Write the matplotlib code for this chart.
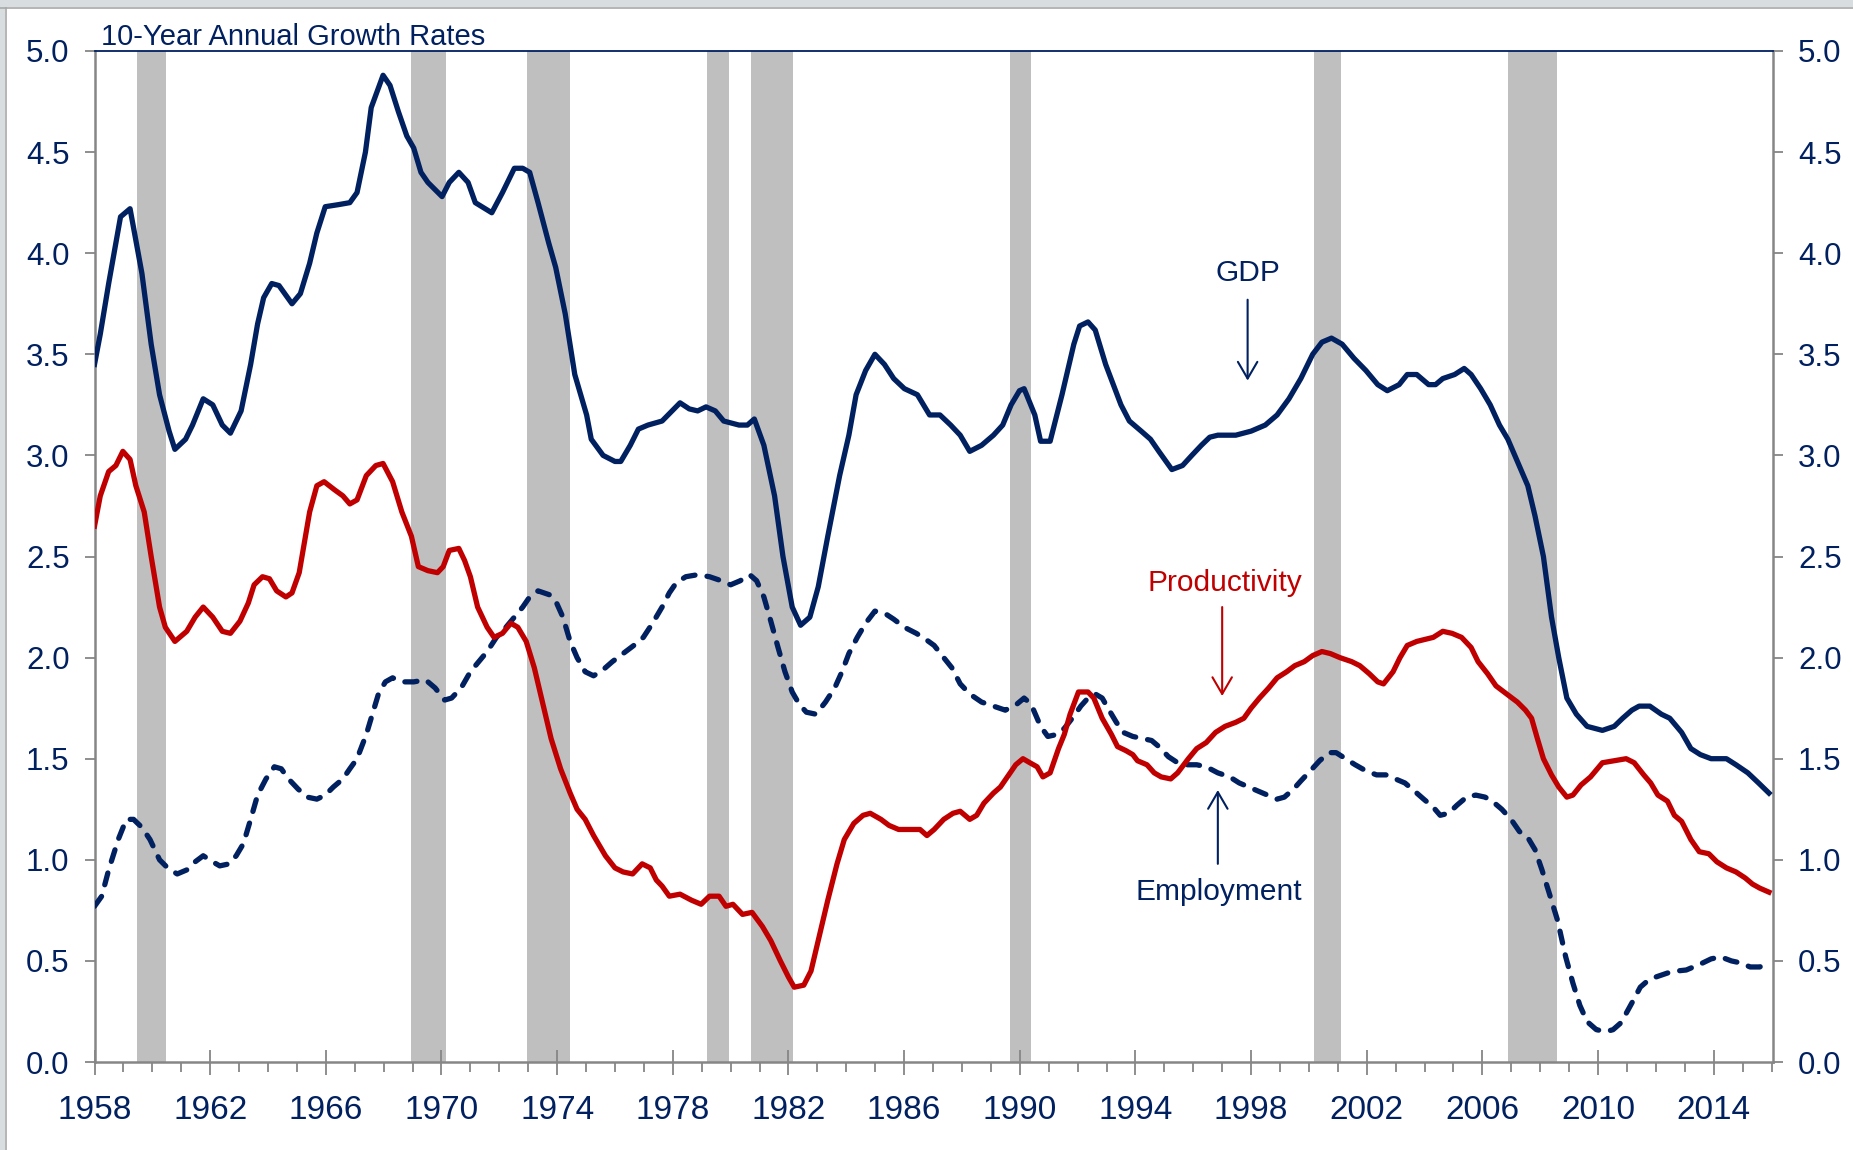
import matplotlib
matplotlib.use("Agg")
import matplotlib.pyplot as plt
from matplotlib.ticker import MultipleLocator, FormatStrFormatter, FixedLocator
from matplotlib.patches import Rectangle
from matplotlib.lines import Line2D

plt.rcParams['font.family'] = ['Liberation Sans', 'DejaVu Sans']

NAVY = '#002060'
RED = '#C00000'
BAR = '#BFBFBF'
SPINE = '#868686'

title = "10-Year Annual Growth Rates"
year_ticks = [1958, 1962, 1966, 1970, 1974, 1978, 1982, 1986, 1990, 1994, 1998, 2002, 2006, 2010, 2014]

recessions = [(1959.46, 1960.48), (1968.95, 1970.16), (1972.97, 1974.46),
              (1979.18, 1979.94), (1980.72, 1982.14), (1989.65, 1990.38),
              (2000.16, 2001.12), (2006.87, 2008.58)]

gdp_years = [1958.0, 1958.2, 1958.49, 1958.9, 1959.23, 1959.64, 1959.96, 1960.25, 1960.58, 1960.78,
             1961.15, 1961.39, 1961.76, 1962.09, 1962.42, 1962.7, 1963.07, 1963.4, 1963.64, 1963.85,
             1964.13, 1964.38, 1964.83, 1965.12, 1965.44, 1965.69, 1965.98, 1966.43, 1966.83, 1967.08,
             1967.37, 1967.57, 1967.98, 1968.22, 1968.51, 1968.8, 1969.04, 1969.29, 1969.53, 1970.02,
             1970.27, 1970.6, 1970.92, 1971.17, 1971.74, 1972.11, 1972.52, 1972.81, 1973.05, 1973.34,
             1973.71, 1973.95, 1974.28, 1974.61, 1975.02, 1975.18, 1975.59, 1976.0, 1976.2, 1976.53,
             1976.81, 1977.14, 1977.63, 1978.25, 1978.57, 1978.86, 1979.15, 1979.47, 1979.76, 1980.29,
             1980.58, 1980.82, 1981.15, 1981.52, 1981.81, 1982.13, 1982.42, 1982.74, 1983.03, 1983.36,
             1983.77, 1984.09, 1984.34, 1984.67, 1984.99, 1985.32, 1985.64, 1986.01, 1986.46, 1986.88,
             1987.24, 1987.61, 1987.94, 1988.27, 1988.68, 1989.09, 1989.41, 1989.7, 1989.99, 1990.15,
             1990.52, 1990.72, 1991.05, 1991.46, 1991.87, 1992.07, 1992.36, 1992.61, 1992.97, 1993.5,
             1993.79, 1994.2, 1994.52, 1994.81, 1995.26, 1995.63, 1995.95, 1996.28, 1996.57, 1996.85,
             1997.47, 1998.0, 1998.49, 1998.9, 1999.31, 1999.72, 2000.13, 2000.45, 2000.78, 2001.15,
             2001.56, 2001.97, 2002.38, 2002.71, 2003.12, 2003.4, 2003.73, 2004.14, 2004.38, 2004.63,
             2005.04, 2005.37, 2005.61, 2005.94, 2006.27, 2006.59, 2006.88, 2007.21, 2007.57, 2007.82,
             2008.11, 2008.39, 2008.64, 2008.92, 2009.25, 2009.62, 2010.15, 2010.56, 2010.85, 2011.17,
             2011.42, 2011.79, 2012.19, 2012.48, 2012.89, 2013.21, 2013.54, 2013.91, 2014.44, 2014.77,
             2015.18, 2015.55, 2015.91]
gdp_values = [3.45, 3.6, 3.85, 4.18, 4.22, 3.9, 3.55, 3.3, 3.12, 3.03,
              3.08, 3.15, 3.28, 3.25, 3.15, 3.11, 3.22, 3.45, 3.65, 3.78,
              3.85, 3.84, 3.75, 3.8, 3.95, 4.1, 4.23, 4.24, 4.25, 4.3,
              4.5, 4.72, 4.88, 4.83, 4.7, 4.58, 4.52, 4.4, 4.35, 4.28,
              4.35, 4.4, 4.35, 4.25, 4.2, 4.3, 4.42, 4.42, 4.4, 4.25,
              4.05, 3.93, 3.7, 3.4, 3.2, 3.08, 3.0, 2.97, 2.97, 3.05,
              3.13, 3.15, 3.17, 3.26, 3.23, 3.22, 3.24, 3.22, 3.17, 3.15,
              3.15, 3.18, 3.05, 2.8, 2.5, 2.25, 2.16, 2.2, 2.35, 2.6,
              2.9, 3.1, 3.3, 3.42, 3.5, 3.45, 3.38, 3.33, 3.3, 3.2,
              3.2, 3.15, 3.1, 3.02, 3.05, 3.1, 3.15, 3.25, 3.32, 3.33,
              3.2, 3.07, 3.07, 3.3, 3.55, 3.64, 3.66, 3.62, 3.45, 3.25,
              3.17, 3.12, 3.08, 3.02, 2.93, 2.95, 3.0, 3.05, 3.09, 3.1,
              3.1, 3.12, 3.15, 3.2, 3.28, 3.38, 3.5, 3.56, 3.58, 3.55,
              3.48, 3.42, 3.35, 3.32, 3.35, 3.4, 3.4, 3.35, 3.35, 3.38,
              3.4, 3.43, 3.4, 3.33, 3.25, 3.15, 3.08, 2.97, 2.85, 2.7,
              2.5, 2.2, 2.0, 1.8, 1.72, 1.66, 1.64, 1.66, 1.7, 1.74,
              1.76, 1.76, 1.72, 1.7, 1.63, 1.55, 1.52, 1.5, 1.5, 1.47,
              1.43, 1.38, 1.33]

prod_years = [1958.0, 1958.2, 1958.49, 1958.74, 1958.98, 1959.23, 1959.43, 1959.72, 1959.96, 1960.25,
              1960.45, 1960.78, 1961.19, 1961.48, 1961.76, 1962.09, 1962.42, 1962.7, 1963.03, 1963.32,
              1963.52, 1963.81, 1964.05, 1964.3, 1964.62, 1964.83, 1965.08, 1965.44, 1965.69, 1965.94,
              1966.3, 1966.59, 1966.83, 1967.08, 1967.4, 1967.73, 1967.98, 1968.31, 1968.63, 1968.96,
              1969.2, 1969.53, 1969.86, 1970.06, 1970.27, 1970.6, 1970.8, 1971.0, 1971.25, 1971.58,
              1971.82, 1972.11, 1972.4, 1972.64, 1972.93, 1973.21, 1973.46, 1973.79, 1974.12, 1974.45,
              1974.69, 1974.97, 1975.26, 1975.67, 1976.0, 1976.28, 1976.61, 1976.94, 1977.22, 1977.43,
              1977.63, 1977.88, 1978.25, 1978.65, 1978.98, 1979.27, 1979.6, 1979.84, 1980.08, 1980.41,
              1980.74, 1981.1, 1981.39, 1981.72, 1982.0, 1982.2, 1982.53, 1982.78, 1983.03, 1983.36,
              1983.68, 1983.93, 1984.26, 1984.58, 1984.83, 1985.2, 1985.48, 1985.81, 1986.22, 1986.55,
              1986.79, 1987.04, 1987.37, 1987.69, 1987.94, 1988.27, 1988.51, 1988.76, 1989.09, 1989.33,
              1989.62, 1989.86, 1990.11, 1990.35, 1990.6, 1990.8, 1991.05, 1991.34, 1991.54, 1991.74,
              1992.03, 1992.36, 1992.56, 1992.85, 1993.17, 1993.38, 1993.67, 1993.91, 1994.07, 1994.4,
              1994.65, 1994.89, 1995.22, 1995.46, 1995.83, 1996.12, 1996.45, 1996.77, 1997.1, 1997.47,
              1997.75, 1998.0, 1998.29, 1998.61, 1998.9, 1999.23, 1999.51, 1999.84, 2000.13, 2000.45,
              2000.74, 2001.07, 2001.48, 2001.76, 2002.09, 2002.38, 2002.58, 2002.91, 2003.15, 2003.4,
              2003.73, 2004.01, 2004.3, 2004.63, 2004.95, 2005.28, 2005.61, 2005.85, 2006.18, 2006.47,
              2006.84, 2007.21, 2007.49, 2007.7, 2007.9, 2008.11, 2008.39, 2008.64, 2008.92, 2009.13,
              2009.41, 2009.74, 2010.15, 2010.56, 2010.97, 2011.25, 2011.58, 2011.82, 2012.07, 2012.4,
              2012.64, 2012.89, 2013.21, 2013.5, 2013.83, 2014.11, 2014.44, 2014.77, 2015.09, 2015.34,
              2015.59, 2015.91]
prod_values = [2.65, 2.8, 2.92, 2.95, 3.02, 2.98, 2.85, 2.72, 2.5, 2.25,
               2.15, 2.08, 2.13, 2.2, 2.25, 2.2, 2.13, 2.12, 2.18, 2.27,
               2.36, 2.4, 2.39, 2.33, 2.3, 2.32, 2.42, 2.72, 2.85, 2.87,
               2.83, 2.8, 2.76, 2.78, 2.9, 2.95, 2.96, 2.87, 2.72, 2.6,
               2.45, 2.43, 2.42, 2.45, 2.53, 2.54, 2.48, 2.4, 2.25, 2.15,
               2.1, 2.12, 2.17, 2.15, 2.08, 1.95, 1.8, 1.6, 1.45, 1.33,
               1.25, 1.2, 1.12, 1.02, 0.96, 0.94, 0.93, 0.98, 0.96, 0.9,
               0.87, 0.82, 0.83, 0.8, 0.78, 0.82, 0.82, 0.77, 0.78, 0.73,
               0.74, 0.67, 0.6, 0.5, 0.42, 0.37, 0.38, 0.45, 0.6, 0.8,
               0.98, 1.1, 1.18, 1.22, 1.23, 1.2, 1.17, 1.15, 1.15, 1.15,
               1.12, 1.15, 1.2, 1.23, 1.24, 1.2, 1.22, 1.28, 1.33, 1.36,
               1.42, 1.47, 1.5, 1.48, 1.46, 1.41, 1.43, 1.55, 1.62, 1.72,
               1.83, 1.83, 1.8, 1.7, 1.62, 1.56, 1.54, 1.52, 1.49, 1.47,
               1.43, 1.41, 1.4, 1.43, 1.5, 1.55, 1.58, 1.63, 1.66, 1.68,
               1.7, 1.75, 1.8, 1.85, 1.9, 1.93, 1.96, 1.98, 2.01, 2.03,
               2.02, 2.0, 1.98, 1.96, 1.92, 1.88, 1.87, 1.93, 2.0, 2.06,
               2.08, 2.09, 2.1, 2.13, 2.12, 2.1, 2.05, 1.98, 1.92, 1.86,
               1.82, 1.78, 1.74, 1.7, 1.6, 1.5, 1.42, 1.36, 1.31, 1.32,
               1.37, 1.41, 1.48, 1.49, 1.5, 1.48, 1.42, 1.38, 1.32, 1.29,
               1.22, 1.19, 1.1, 1.04, 1.03, 0.99, 0.96, 0.94, 0.91, 0.88,
               0.86, 0.84]

emp_years = [1958.0, 1958.25, 1958.49, 1958.82, 1959.1, 1959.35, 1959.64, 1959.92, 1960.25, 1960.53,
             1960.86, 1961.19, 1961.48, 1961.76, 1962.09, 1962.33, 1962.66, 1962.9, 1963.15, 1963.4,
             1963.64, 1963.93, 1964.22, 1964.46, 1964.71, 1965.04, 1965.36, 1965.69, 1965.98, 1966.26,
             1966.59, 1966.83, 1967.08, 1967.4, 1967.61, 1967.82, 1968.06, 1968.31, 1968.63, 1969.04,
             1969.45, 1969.78, 1970.11, 1970.35, 1970.68, 1971.0, 1971.29, 1971.58, 1971.9, 1972.23,
             1972.52, 1972.81, 1973.05, 1973.34, 1973.75, 1973.95, 1974.2, 1974.45, 1974.69, 1974.97,
             1975.26, 1975.59, 1975.91, 1976.28, 1976.65, 1976.98, 1977.3, 1977.63, 1977.88, 1978.12,
             1978.45, 1978.86, 1979.27, 1979.68, 1980.0, 1980.33, 1980.66, 1980.9, 1981.15, 1981.39,
             1981.64, 1981.88, 1982.13, 1982.37, 1982.62, 1982.95, 1983.28, 1983.6, 1983.85, 1984.09,
             1984.38, 1984.67, 1984.99, 1985.32, 1985.64, 1986.01, 1986.42, 1986.75, 1987.04, 1987.37,
             1987.65, 1987.94, 1988.27, 1988.68, 1989.09, 1989.5, 1989.9, 1990.15, 1990.39, 1990.72,
             1990.97, 1991.29, 1991.54, 1991.87, 1992.11, 1992.36, 1992.61, 1992.85, 1993.09, 1993.34,
             1993.58, 1993.91, 1994.24, 1994.56, 1994.81, 1995.14, 1995.46, 1995.79, 1996.12, 1996.45,
             1996.85, 1997.26, 1997.59, 1997.92, 1998.24, 1998.57, 1998.9, 1999.15, 1999.47, 1999.72,
             2000.05, 2000.37, 2000.7, 2000.94, 2001.27, 2001.6, 2001.97, 2002.34, 2002.66, 2002.99,
             2003.32, 2003.65, 2003.97, 2004.3, 2004.54, 2004.83, 2005.12, 2005.45, 2005.77, 2006.09,
             2006.34, 2006.67, 2006.99, 2007.28, 2007.57, 2007.82, 2008.06, 2008.3, 2008.6, 2008.88,
             2009.13, 2009.37, 2009.62, 2009.94, 2010.27, 2010.52, 2010.76, 2010.97, 2011.2, 2011.46,
             2011.7, 2011.99, 2012.4, 2012.72, 2013.05, 2013.3, 2013.62, 2013.91, 2014.24, 2014.61,
             2014.93, 2015.26, 2015.59, 2015.91]
emp_values = [0.77, 0.82, 0.95, 1.1, 1.2, 1.2, 1.16, 1.1, 1.0, 0.96,
              0.93, 0.95, 0.99, 1.02, 0.99, 0.97, 0.98, 1.02, 1.08, 1.2,
              1.32, 1.4, 1.46, 1.45, 1.4, 1.35, 1.31, 1.3, 1.32, 1.36,
              1.4, 1.45, 1.5, 1.62, 1.72, 1.82, 1.88, 1.9, 1.88, 1.88,
              1.89, 1.85, 1.79, 1.8, 1.85, 1.93, 1.98, 2.03, 2.1, 2.15,
              2.2, 2.25, 2.3, 2.33, 2.31, 2.28, 2.2, 2.08, 2.0, 1.93,
              1.91, 1.94, 1.98, 2.02, 2.06, 2.1, 2.17, 2.25, 2.32, 2.37,
              2.4, 2.41, 2.4, 2.38, 2.36, 2.38, 2.41, 2.38, 2.3, 2.18,
              2.05, 1.93, 1.83, 1.77, 1.73, 1.72, 1.78, 1.85, 1.93, 2.02,
              2.1, 2.17, 2.23, 2.22, 2.19, 2.15, 2.12, 2.09, 2.06, 2.0,
              1.95, 1.87, 1.82, 1.78, 1.76, 1.74, 1.77, 1.8, 1.77, 1.66,
              1.61, 1.62, 1.65, 1.71, 1.76, 1.8, 1.82, 1.8, 1.74, 1.68,
              1.63, 1.61, 1.6, 1.59, 1.56, 1.51, 1.48, 1.47, 1.47, 1.46,
              1.43, 1.41, 1.38, 1.36, 1.34, 1.32, 1.3, 1.31, 1.35, 1.39,
              1.44, 1.49, 1.53, 1.53, 1.5, 1.47, 1.44, 1.42, 1.42, 1.4,
              1.38, 1.34, 1.3, 1.26, 1.22, 1.23, 1.27, 1.31, 1.32, 1.31,
              1.29, 1.25, 1.2, 1.14, 1.11, 1.05, 0.95, 0.84, 0.7, 0.52,
              0.39, 0.28, 0.2, 0.16, 0.15, 0.16, 0.19, 0.24, 0.3, 0.37,
              0.4, 0.42, 0.44, 0.45, 0.455, 0.47, 0.49, 0.51, 0.52, 0.5,
              0.49, 0.47, 0.47, 0.49]

fig = plt.figure(figsize=(18.53, 11.5), dpi=100)
fig.patch.set_facecolor('white')
# thin grey frame strips of the original screenshot
fig.patches.append(Rectangle((0, 1 - 7 / 1150), 1, 7 / 1150, transform=fig.transFigure,
                             facecolor='#D8DEDF', edgecolor='none', zorder=0))
fig.patches.append(Rectangle((0, 0), 5 / 1853, 1, transform=fig.transFigure,
                             facecolor='#D8DEDF', edgecolor='none', zorder=0))
fig.lines.append(Line2D([0, 1], [1 - 7.5 / 1150] * 2, transform=fig.transFigure,
                        color='#A8A8A8', lw=1.2))
fig.lines.append(Line2D([5.5 / 1853] * 2, [0, 1 - 7.5 / 1150], transform=fig.transFigure,
                        color='#A8A8A8', lw=1.2))

ax = fig.add_axes([94.5 / 1853, 88 / 1150, (1773 - 94.5) / 1853, (1062 - 51) / 1150])

for s, e in recessions:
    ax.axvspan(s, e, facecolor=BAR, edgecolor='none', zorder=1)

emp_line, = ax.plot(emp_years, emp_values, color=NAVY, lw=3.8, zorder=3,
                    solid_capstyle='round', dash_capstyle='round')
emp_line.set_dashes((2.3, 2.3))
ax.plot(prod_years, prod_values, color=RED, lw=3.8, zorder=4, solid_joinstyle='round')
ax.plot(gdp_years, gdp_values, color=NAVY, lw=3.8, zorder=5, solid_joinstyle='round')

ax.set_xlim(1958, 2016.05)
ax.set_ylim(0, 5)

ax.xaxis.set_major_locator(FixedLocator(year_ticks))
ax.xaxis.set_minor_locator(MultipleLocator(1))
ax.yaxis.set_major_locator(MultipleLocator(0.5))
ax.yaxis.set_major_formatter(FormatStrFormatter('%.1f'))

ax.tick_params(axis='x', which='major', direction='inout', length=18, width=1.3,
               color=SPINE, labelsize=24, labelcolor=NAVY, pad=15)
ax.tick_params(axis='x', which='minor', direction='out', length=7, width=1.3, color=SPINE)
ax.tick_params(axis='y', which='major', direction='out', length=7, width=1.3, color=SPINE,
               labelsize=22.5, labelcolor=NAVY, pad=11, left=True, right=True,
               labelleft=True, labelright=True)

for side in ('left', 'right', 'bottom'):
    ax.spines[side].set_color(SPINE)
    ax.spines[side].set_linewidth(1.8)
ax.spines['top'].set_color(NAVY)
ax.spines['top'].set_linewidth(1.3)

ax.annotate(title, xy=(0, 1), xycoords='axes fraction', xytext=(4.5, 4.5),
            textcoords='offset points', ha='left', va='baseline', fontsize=21, color=NAVY)

arrow_kw = dict(arrowstyle='->,head_length=0.6,head_width=0.35', lw=1.5, mutation_scale=20,
                shrinkA=0, shrinkB=0)
# GDP
ax.text(1997.88, 3.90, 'GDP', color=NAVY, fontsize=21.5, ha='center', va='center')
ax.annotate('', xy=(1997.88, 3.37), xytext=(1997.88, 3.77),
            arrowprops=dict(color=NAVY, **arrow_kw))
# Productivity
ax.text(1997.08, 2.37, 'Productivity', color=RED, fontsize=21.5, ha='center', va='center')
ax.annotate('', xy=(1997.0, 1.81), xytext=(1997.0, 2.25),
            arrowprops=dict(color=RED, **arrow_kw))
# Employment
ax.text(1996.9, 0.84, 'Employment', color=NAVY, fontsize=21.5, ha='center', va='center')
ax.annotate('', xy=(1996.85, 1.345), xytext=(1996.85, 0.98),
            arrowprops=dict(color=NAVY, **arrow_kw))

fig.savefig('out.png', dpi=100, facecolor='white')
